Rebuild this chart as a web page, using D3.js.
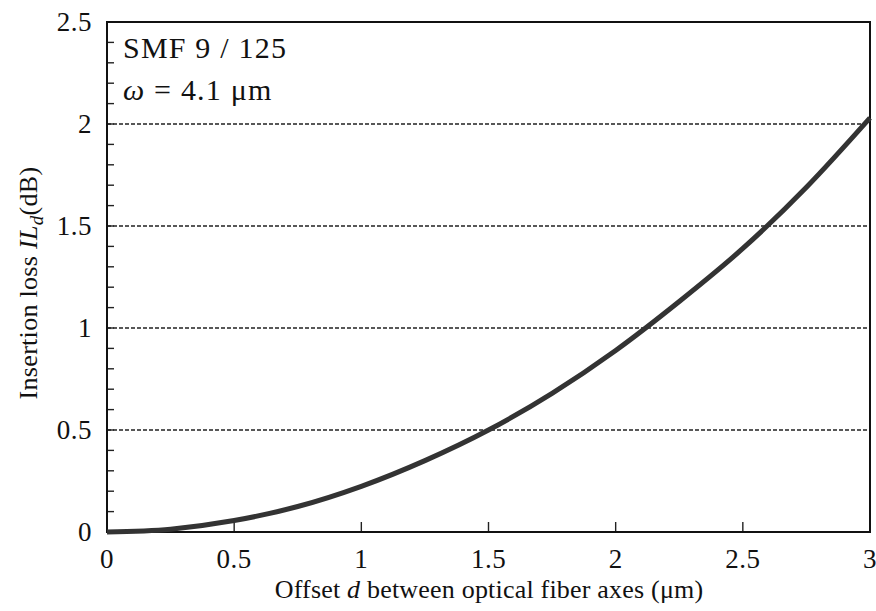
<!DOCTYPE html>
<html>
<head>
<meta charset="utf-8">
<script src="https://cdn.jsdelivr.net/npm/d3@7"></script>
<style>
  body { margin: 0; background: #fff; }
  text { font-family: "Liberation Serif", "Times New Roman", serif; fill: #111; }
</style>
</head>
<body>
<div id="chart"></div>
<script>
const offset = [0, 0.25, 0.5, 0.75, 1, 1.25, 1.5, 1.75, 2, 2.25, 2.5, 2.75, 3];
const loss = [0, 0.014, 0.056, 0.125, 0.224, 0.35, 0.5, 0.68, 0.89, 1.13, 1.39, 1.69, 2.03];
const xTicks = [0, 0.5, 1, 1.5, 2, 2.5, 3];
const yTicks = [0, 0.5, 1, 1.5, 2, 2.5];
const yMinor = d3.range(0, 25).map(i => i / 10);

const W = 876, H = 611;
const m = { left: 107, right: 6, top: 22, bottom: 79 };

const svg = d3.select("#chart").append("svg")
  .attr("width", W).attr("height", H);

const x = d3.scaleLinear().domain([0, 3]).range([m.left, W - m.right]);
const y = d3.scaleLinear().domain([0, 2.5]).range([H - m.bottom, m.top]);

// dashed grid lines
svg.append("g")
  .selectAll("line")
  .data(yTicks.filter(d => d > 0 && d < 2.5))
  .join("line")
  .attr("x1", x(0)).attr("x2", x(3))
  .attr("y1", d => y(d)).attr("y2", d => y(d))
  .attr("stroke", "#222")
  .attr("stroke-width", 1.3)
  .attr("stroke-dasharray", "4,2");

// minor y ticks (inside)
svg.append("g")
  .selectAll("line")
  .data(yMinor)
  .join("line")
  .attr("x1", x(0)).attr("x2", x(0) + 7)
  .attr("y1", d => y(d)).attr("y2", d => y(d))
  .attr("stroke", "#222").attr("stroke-width", 1.4);

// x ticks (inside)
svg.append("g")
  .selectAll("line")
  .data(xTicks.slice(1, -1))
  .join("line")
  .attr("x1", d => x(d)).attr("x2", d => x(d))
  .attr("y1", y(0)).attr("y2", y(0) - 10)
  .attr("stroke", "#222").attr("stroke-width", 1.4);

// frame
svg.append("rect")
  .attr("x", x(0)).attr("y", y(2.5))
  .attr("width", x(3) - x(0)).attr("height", y(0) - y(2.5))
  .attr("fill", "none").attr("stroke", "#111").attr("stroke-width", 2);

// tick labels
svg.append("g")
  .selectAll("text")
  .data(xTicks)
  .join("text")
  .attr("x", d => x(d)).attr("y", y(0) + 36)
  .attr("text-anchor", "middle")
  .attr("font-size", 27)
  .attr("letter-spacing", 0.5)
  .text(d => d);

svg.append("g")
  .selectAll("text")
  .data(yTicks)
  .join("text")
  .attr("x", x(0) - 15).attr("y", d => y(d) + 9)
  .attr("text-anchor", "end")
  .attr("font-size", 27)
  .attr("letter-spacing", 0.5)
  .text(d => d);

// curve
const line = d3.line()
  .x((d, i) => x(offset[i]))
  .y(d => y(d))
  .curve(d3.curveMonotoneX);

svg.append("path")
  .datum(loss)
  .attr("d", line)
  .attr("fill", "none")
  .attr("stroke", "#333")
  .attr("stroke-width", 5);

// annotation
svg.append("text")
  .attr("x", 123).attr("y", 58)
  .attr("font-size", 30)
  .attr("letter-spacing", 1.2)
  .text("SMF 9 / 125");

const om = svg.append("text")
  .attr("x", 123).attr("y", 100)
  .attr("font-size", 30)
  .attr("letter-spacing", 1.2);
om.append("tspan").attr("font-style", "italic").text("ω");
om.append("tspan").text(" = 4.1 μm");

// axis titles
const xl = svg.append("text")
  .attr("x", 489).attr("y", 598)
  .attr("text-anchor", "middle")
  .attr("font-size", 26)
  .attr("letter-spacing", 0.2);
xl.append("tspan").text("Offset ");
xl.append("tspan").attr("font-style", "italic").text("d");
xl.append("tspan").text(" between optical fiber axes (μm)");

const yl = svg.append("text")
  .attr("transform", "translate(37,283) rotate(-90)")
  .attr("text-anchor", "middle")
  .attr("font-size", 26)
  .attr("letter-spacing", 0.3);
yl.append("tspan").text("Insertion loss ");
yl.append("tspan").attr("font-style", "italic").text("IL");
yl.append("tspan").attr("font-style", "italic").attr("font-size", 19).attr("dy", 6).text("d");
yl.append("tspan").attr("dy", -6).text("(dB)");
</script>
</body>
</html>
